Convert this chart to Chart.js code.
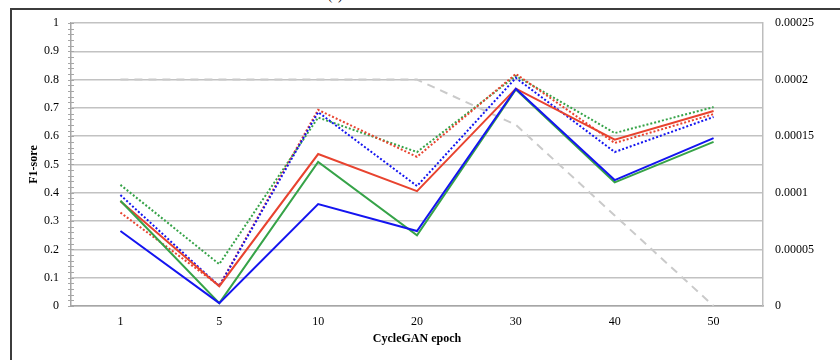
<!DOCTYPE html>
<html>
<head>
<meta charset="utf-8">
<script src="https://cdn.jsdelivr.net/npm/chart.js@4.4.1/dist/chart.umd.min.js"></script>
<style>
html, body { margin: 0; padding: 0; background: #fff; overflow: hidden; }
#wrap { position: relative; width: 840px; height: 360px; }
#frame { position: absolute; left: 10px; top: 8px; width: 900px; height: 400px; border-left: 2px solid #3c3c3c; border-top: 2px solid #3c3c3c; }
#tag { position: absolute; left: 328px; top: -12px; font: 13px "Liberation Serif", serif; color: #000; }
canvas { position: absolute; left: 0; top: 0; }
</style>
</head>
<body>
<div id="wrap">
    <div id="tag">(a)</div>
    <div id="frame"></div>
    <canvas id="grafico" width="840" height="360"></canvas>
</div>
<script>
// Datos
const epochs = ['1', '5', '10', '20', '30', '40', '50'];
const blueSolid   = [0.265, 0.01, 0.36, 0.265, 0.768, 0.445, 0.593];
const greenSolid  = [0.372, 0.01, 0.509, 0.25, 0.765, 0.437, 0.58];
const redSolid    = [0.37, 0.07, 0.537, 0.406, 0.768, 0.588, 0.689];
const blueDotted  = [0.392, 0.07, 0.685, 0.424, 0.806, 0.544, 0.668];
const redDotted   = [0.33, 0.072, 0.693, 0.527, 0.82, 0.576, 0.678];
const greenDotted = [0.428, 0.148, 0.666, 0.544, 0.813, 0.611, 0.703];
const learningRate = [0.0002, 0.0002, 0.0002, 0.0002, 0.00016, 0.00008, 0];

// Etiquetas de los ejes
const leftTicks = ['0', '0.1', '0.2', '0.3', '0.4', '0.5', '0.6', '0.7', '0.8', '0.9', '1'];
const rightTicks = ['0', '0.00005', '0.0001', '0.00015', '0.0002', '0.00025'];
const minorStep = 0.02;

const serif = '"Liberation Serif", "Times New Roman", serif';

// Marcas menores en el eje izquierdo
const minorTicks = {
    id: 'minorTicks',
    afterDraw(chart) {
        const y = chart.scales.y;
        const ctx = chart.ctx;
        const x0 = y.right;
        ctx.save();
        ctx.strokeStyle = '#a6a6a6';
        ctx.lineWidth = 1;
        for (let v = 0; v <= 1.0001; v += minorStep) {
            const py = Math.round(y.getPixelForValue(v)) + 0.5;
            ctx.beginPath();
            ctx.moveTo(x0 - 3, py);
            ctx.lineTo(x0 + 3, py);
            ctx.stroke();
        }
        ctx.restore();
    }
};

function line(data, color, dotted) {
    return {
        data: data,
        borderColor: color,
        backgroundColor: color,
        borderWidth: 2,
        borderDash: dotted ? [2, 2] : [],
        pointRadius: 0,
        tension: 0,
        fill: false,
        yAxisID: 'y'
    };
}

const ctx = document.getElementById('grafico').getContext('2d');
new Chart(ctx, {
    type: 'line',
    data: {
        labels: epochs,
        datasets: [
            line(blueSolid, '#1414f0', false),
            line(greenSolid, '#36a348', false),
            line(redSolid, '#e8432f', false),
            line(blueDotted, '#1414f0', true),
            line(redDotted, '#e8432f', true),
            line(greenDotted, '#36a348', true),
            {
                data: learningRate,
                borderColor: '#cacaca',
                borderWidth: 2,
                borderDash: [8, 6],
                pointRadius: 0,
                tension: 0,
                fill: false,
                yAxisID: 'y2'
            }
        ]
    },
    options: {
        responsive: false,
        animation: false,
        layout: { padding: { top: 23, left: 0, right: 0, bottom: 0 } },
        plugins: {
            legend: { display: false },
            tooltip: { enabled: false }
        },
        scales: {
            x: {
                type: 'category',
                offset: true,
                grid: { drawOnChartArea: false, drawTicks: false },
                border: { color: '#a6a6a6', width: 1.5 },
                ticks: { color: '#000', padding: 9, font: { family: serif, size: 12 } },
                title: {
                    display: true,
                    text: 'CycleGAN epoch',
                    color: '#000',
                    font: { family: serif, size: 12, weight: 'bold' },
                    padding: { top: 14, bottom: 14 }
                },
                afterFit: function(scale) { scale.height = 54; }
            },
            y: {
                position: 'left',
                min: 0,
                max: 1,
                grid: { color: '#c2c2c2', lineWidth: 1.5, drawTicks: false },
                border: { color: '#a6a6a6', width: 1.5 },
                ticks: {
                    stepSize: 0.1,
                    padding: 12,
                    color: '#000',
                    font: { family: serif, size: 12 },
                    callback: function(value, index) { return leftTicks[index]; }
                },
                title: {
                    display: true,
                    text: 'F1-sore',
                    color: '#000',
                    font: { family: serif, size: 12, weight: 'bold' },
                    padding: { top: 27, bottom: 27 }
                },
                afterFit: function(scale) { scale.width = 71; }
            },
            y2: {
                position: 'right',
                min: 0,
                max: 0.00025,
                grid: { drawOnChartArea: false, drawTicks: false },
                border: { color: '#bdbdbd', width: 1.5 },
                ticks: {
                    stepSize: 0.00005,
                    padding: 12,
                    color: '#000',
                    font: { family: serif, size: 12 },
                    callback: function(value, index) { return rightTicks[index]; }
                },
                afterFit: function(scale) { scale.width = 77; }
            }
        }
    },
    plugins: [minorTicks]
});
</script>
</body>
</html>
